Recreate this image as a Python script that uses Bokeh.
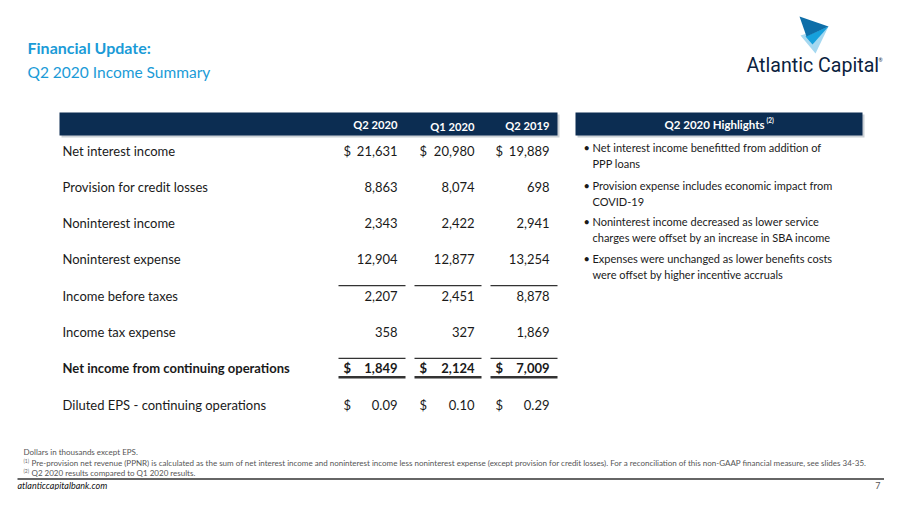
from bokeh.plotting import figure
from bokeh.models import Range1d
from bokeh.core.properties import value
from bokeh.embed import file_html
from bokeh.resources import INLINE

# ---------------- data ----------------
title_1 = "Financial Update:"
title_2 = "Q2 2020 Income Summary"
columns = ["Q2 2020", "Q1 2020", "Q2 2019"]
row_labels = [
    "Net interest income",
    "Provision for credit losses",
    "Noninterest income",
    "Noninterest expense",
    "Income before taxes",
    "Income tax expense",
    "Net income from continuing operations",
    "Diluted EPS - continuing operations",
]
q2_2020 = [21631, 8863, 2343, 12904, 2207, 358, 1849, 0.09]
q1_2020 = [20980, 8074, 2422, 12877, 2451, 327, 2124, 0.10]
q2_2019 = [19889, 698, 2941, 13254, 8878, 1869, 7009, 0.29]
dollar_rows = [0, 6, 7]
bold_rows = [6]
eps_rows = [7]
highlights_title = "Q2 2020 Highlights"
highlights = [
    ["Net interest income benefitted from addition of", "PPP loans"],
    ["Provision expense includes economic impact from", "COVID-19"],
    ["Noninterest income decreased as lower service", "charges were offset by an increase in SBA income"],
    ["Expenses were unchanged as lower benefits costs", "were offset by higher incentive accruals"],
]
footnotes = [
    ("", "Dollars in thousands except EPS."),
    ("(1)", "Pre-provision net revenue (PPNR) is calculated as the sum of net interest income and noninterest income less noninterest expense (except provision for credit losses). For a reconciliation of this non-GAAP financial measure, see slides 34-35."),
    ("(2)", "Q2 2020 results compared to Q1 2020 results."),
]
website = "atlanticcapitalbank.com"
page_no = "7"

# ---------------- styles / layout ----------------
FONT = "Lato"
NAVY = "#0c2d52"
BLUE = "#1b9bd7"
TXT = "#1a1a1a"

p = figure(width=884, height=490, x_range=Range1d(0, 884), y_range=Range1d(490, 0),
           output_backend="svg", toolbar_location=None, min_border=0)
p.axis.visible = False
p.grid.visible = False
p.outline_line_color = None
p.background_fill_color = "white"
p.border_fill_color = "white"


def txt(x, y, s, size, color=TXT, align="left", style="normal", base="middle", font=FONT):
    p.text(x=[x], y=[y], text=[s], text_font=value(font), text_font_size=f"{size}px",
           text_color=color, text_align=align, text_baseline=base, text_font_style=style)


# title
txt(27, 47, title_1, 16, BLUE, style="bold")
txt(27, 71, title_2, 15.5, BLUE)

# logo
p.patch(x=[800, 828, 815], y=[35, 26, 53], fill_color="#a5d8f0", line_color=None)
p.patch(x=[805, 828, 812], y=[36, 26, 44], fill_color="#16a0dc", line_color=None)
p.patch(x=[799, 828, 806], y=[16, 26, 36], fill_color="#0e6ea8", line_color=None)
txt(746, 65, "Atlantic Capital", 19.6, "#0c1f3f", font="Roboto")
txt(878, 59, "®", 5, "#0c1f3f")

# header bars (with shadow)
for x0, x1 in [(59, 557), (575, 862)]:
    p.quad(left=[x0 + 2], right=[x1 + 2], top=[114], bottom=[137], fill_color="#9aa3ad",
           fill_alpha=0.5, line_color=None)
    p.quad(left=[x0], right=[x1], top=[112], bottom=[135], fill_color=NAVY, line_color=None)

col_right = [397, 474, 549]
col_dollar = [343, 419, 495]
col_line = [(338, 405), (414, 481), (490, 557)]
head_y = [124, 126, 125]
for j, c in enumerate(columns):
    txt(col_right[j], head_y[j], c, 11.2, "white", align="right", style="bold")

txt(714, 124, highlights_title, 11.5, "white", align="center", style="bold")
txt(766, 120, "(2)", 6.5, "white", style="bold")

# table rows
row_y0, row_dy = 150, 36.3
series = [q2_2020, q1_2020, q2_2019]
for i, lab in enumerate(row_labels):
    y = row_y0 + i * row_dy
    st = "bold" if i in bold_rows else "normal"
    txt(62, y, lab, 13, TXT, style=st)
    for j, ser in enumerate(series):
        v = ser[i]
        s = f"{v:.2f}" if i in eps_rows else f"{v:,.0f}"
        txt(col_right[j], y, s, 13, TXT, align="right", style=st)
        if i in dollar_rows:
            txt(col_dollar[j], y, "$", 13, TXT, align="left", style=st)

# rules
for j, (a, b) in enumerate(col_line):
    y4 = row_y0 + 4 * row_dy - 10
    y6 = row_y0 + 6 * row_dy
    p.segment(x0=[a], y0=[y4], x1=[b], y1=[y4], line_color="#333333", line_width=1.2)
    p.segment(x0=[a], y0=[y6 - 10], x1=[b], y1=[y6 - 10], line_color="#333333", line_width=1.2)
    p.segment(x0=[a], y0=[y6 + 9], x1=[b], y1=[y6 + 9], line_color="#333333", line_width=2.5)

# highlights bullets
hy = [147, 185, 221, 258]
for k, lines in enumerate(highlights):
    txt(583, hy[k], "•", 11, TXT)
    for m, ln in enumerate(lines):
        txt(592, hy[k] + m * 16, ln, 11, TXT)

# footnotes
fy = [451, 462, 472]
for k, (sup, t) in enumerate(footnotes):
    if sup:
        txt(23, fy[k] - 2, sup, 5, "#666666")
        txt(31, fy[k], t, 8.0, "#555555")
    else:
        txt(23, fy[k], t, 8.0, "#555555")

p.segment(x0=[17], y0=[478.5], x1=[886], y1=[478.5], line_color="#333333", line_width=1.5)
txt(17, 484.5, website, 9, "#111111", style="italic")
txt(880, 484.5, page_no, 9, "#555555", align="right")

open("out.html", "w").write(file_html(p, INLINE))
